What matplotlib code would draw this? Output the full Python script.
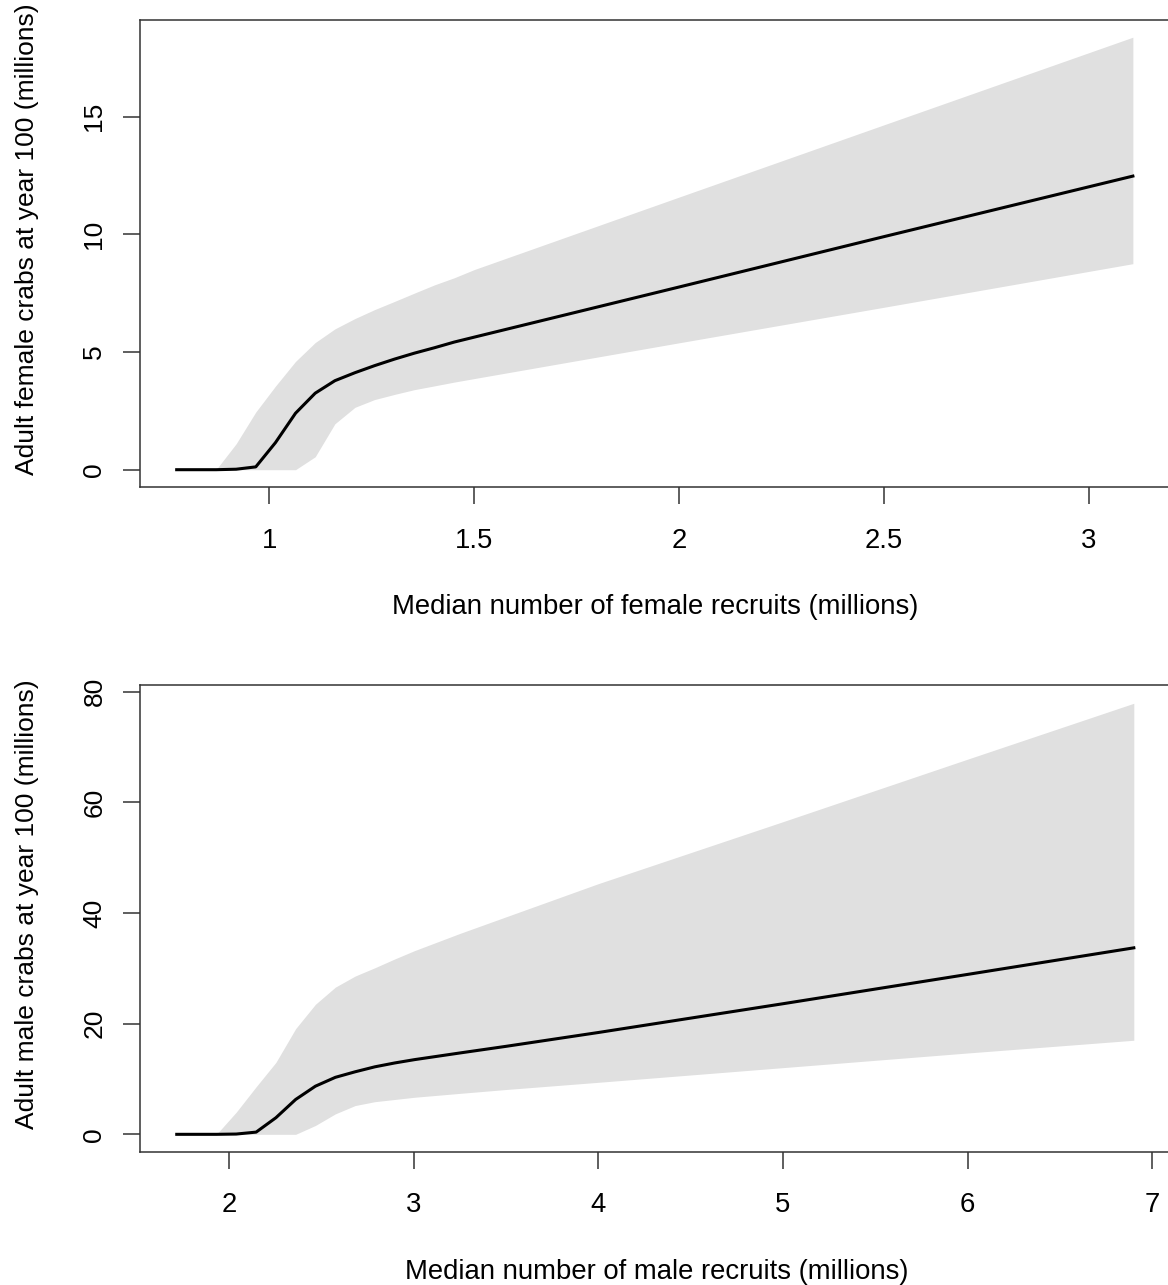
import matplotlib
matplotlib.use("Agg")
import matplotlib.pyplot as plt

plt.rcParams['font.family'] = ['Liberation Sans', 'DejaVu Sans']

# ---- Female panel data (millions) ----
female_x = [0.774, 0.822, 0.870, 0.919, 0.967, 1.015, 1.064, 1.112, 1.160, 1.209,
            1.257, 1.306, 1.354, 1.403, 1.451, 1.500, 2.000, 2.500, 3.107]
female_mid = [0.0, 0.0, 0.0, 0.02, 0.12, 1.15, 2.40, 3.25, 3.78, 4.12,
              4.42, 4.70, 4.95, 5.18, 5.42, 5.63, 7.76, 9.90, 12.47]
female_upper = [0.0, 0.0, 0.0, 1.10, 2.45, 3.55, 4.60, 5.40, 5.98, 6.42,
                6.80, 7.15, 7.50, 7.85, 8.15, 8.50, 11.58, 14.65, 18.37]
female_lower = [0.0, 0.0, 0.0, 0.0, 0.0, 0.0, 0.0, 0.55, 1.95, 2.65,
                2.98, 3.20, 3.40, 3.56, 3.72, 3.87, 5.39, 6.90, 8.75]

# ---- Male panel data (millions) ----
male_x = [1.717, 1.825, 1.932, 2.039, 2.147, 2.254, 2.361, 2.468, 2.576, 2.683,
          2.790, 2.898, 3.005, 3.250, 3.500, 4.000, 5.000, 6.000, 6.900]
male_mid = [0.0, 0.0, 0.0, 0.05, 0.40, 3.0, 6.3, 8.7, 10.3, 11.3,
            12.2, 12.9, 13.5, 14.7, 15.9, 18.4, 23.6, 28.9, 33.7]
male_upper = [0.0, 0.0, 0.0, 4.0, 8.6, 13.0, 19.1, 23.5, 26.6, 28.6,
              30.1, 31.7, 33.2, 36.3, 39.3, 45.3, 56.5, 67.8, 77.9]
male_lower = [0.0, 0.0, 0.0, 0.0, 0.0, 0.0, 0.0, 1.6, 3.7, 5.2,
              5.9, 6.3, 6.7, 7.4, 8.1, 9.4, 12.05, 14.7, 17.0]

female_xticks = [1, 1.5, 2, 2.5, 3]
female_xticklabels = ["1", "1.5", "2", "2.5", "3"]
female_yticks = [0, 5, 10, 15]
male_xticks = [2, 3, 4, 5, 6, 7]
male_yticks = [0, 20, 40, 60, 80]

W, H = 1168, 1285
fig = plt.figure(figsize=(W / 100, H / 100), dpi=100)

band_color = "#E0E0E0"
FSX = 19.8
FSY = 19.0


def style(ax):
    for s in ax.spines.values():
        s.set_linewidth(1.1)
        s.set_color("#333333")
    ax.tick_params(direction="out", length=12.2, width=1.1, color="#333333")
    ax.tick_params(axis="x", pad=17, labelsize=FSX)
    ax.tick_params(axis="y", pad=12, labelsize=FSY)
    for lab in ax.get_yticklabels():
        lab.set_rotation(90)
        lab.set_va("center")


# top panel
ax1 = fig.add_axes([140 / W, 1 - 487 / H, 1031 / W, 467 / H])
ax1.fill_between(female_x, female_lower, female_upper, color=band_color,
                 linewidth=0)
ax1.plot(female_x, female_mid, color="black", linewidth=2.2)
ax1.set_xlim(0.6845, 3.2)
ax1.set_ylim(-0.735, 19.1)
ax1.set_xticks(female_xticks)
ax1.set_xticklabels(female_xticklabels)
ax1.set_yticks(female_yticks)
ax1.set_yticklabels([str(v) for v in female_yticks])
style(ax1)
ax1.set_xlabel("Median number of female recruits (millions)", fontsize=FSX,
               labelpad=29)
ax1.set_ylabel("Adult female crabs at year 100 (millions)", fontsize=FSY,
               labelpad=31)
ax1.yaxis.label.set_y(0.53)

# bottom panel
ax2 = fig.add_axes([140 / W, 1 - 1151.7 / H, 1032.6 / W, 466.7 / H])
ax2.fill_between(male_x, male_lower, male_upper, color=band_color,
                 linewidth=0)
ax2.plot(male_x, male_mid, color="black", linewidth=2.2)
ax2.set_xlim(1.518, 7.11)
ax2.set_ylim(-3.14, 81.2)
ax2.set_xticks(male_xticks)
ax2.set_xticklabels([str(v) for v in male_xticks])
ax2.set_yticks(male_yticks)
ax2.set_yticklabels([str(v) for v in male_yticks])
style(ax2)
ax2.set_xlabel("Median number of male recruits (millions)", fontsize=FSX,
               labelpad=29)
ax2.set_ylabel("Adult male crabs at year 100 (millions)", fontsize=FSY,
               labelpad=31)
ax2.yaxis.label.set_y(0.53)

fig.savefig("out.png", dpi=100)
